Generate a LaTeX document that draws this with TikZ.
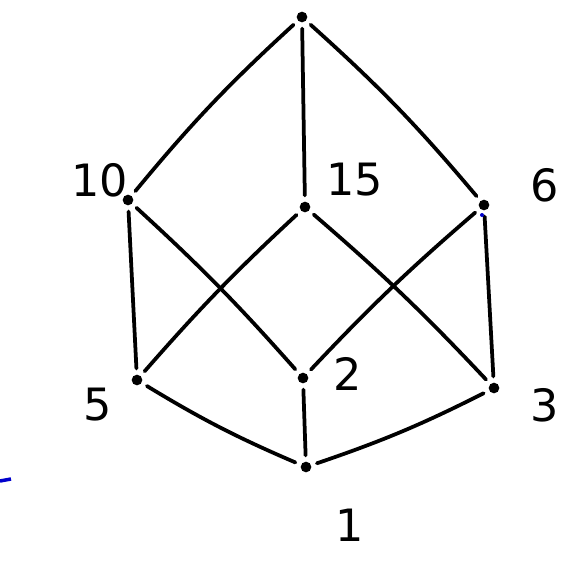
\documentclass[tikz,border=0pt]{standalone}
\usepackage{fontspec}
\setmainfont{DejaVu Sans}
\usepackage{tikz}
\usetikzlibrary{positioning}

\begin{document}
\begin{tikzpicture}[x=0.3mm,y=-0.3mm,
    ponto/.style={circle,fill=black,inner sep=0,minimum size=3.2mm},
    rotulo/.style={font=\fontsize{38}{42}\selectfont},
    aresta/.style={line width=3.2pt,line cap=round,shorten <=1.8mm,shorten >=1.8mm}]
  \useasboundingbox (0,0) rectangle (587,561);

  % elementos do reticulado (divisores de 30)
  \node[ponto] (n30) at (302,17) {};
  \node[ponto] (n10) at (128,200) {};
  \node[ponto] (n15) at (305,207) {};
  \node[ponto] (n6) at (484,205) {};
  \node[ponto] (n5) at (137,380) {};
  \node[ponto] (n2) at (303,378) {};
  \node[ponto] (n3) at (494,388) {};
  \node[ponto] (n1) at (306,467) {};

  % rótulos
  \node[rotulo] (r10) at (100,180) {10};
  \node[rotulo] (r15) at (355,180) {15};
  \node[rotulo] (r6) at (545,185) {6};
  \node[rotulo] (r5) at (98,405) {5};
  \node[rotulo] (r2) at (348,374) {2};
  \node[rotulo] (r3) at (545,405) {3};
  \node[rotulo] (r1) at (350,525) {1};

  % arestas de cobertura
  \draw[aresta] (n30) to[bend right=4] (n10);
  \draw[aresta] (n30) -- (n15);
  \draw[aresta] (n30) to[bend left=4] (n6);
  \draw[aresta] (n10) -- (n5);
  \draw[aresta] (n10) to[bend left=3] (n2);
  \draw[aresta] (n15) to[bend right=3] (n5);
  \draw[aresta] (n15) to[bend left=3] (n3);
  \draw[aresta] (n6) to[bend right=3] (n2);
  \draw[aresta] (n6) -- (n3);
  \draw[aresta] (n5) to[bend right=4] (n1);
  \draw[aresta] (n2) -- (n1);
  \draw[aresta] (n3) to[bend left=4] (n1);

  % traços azuis soltos
  \draw[blue!80!black,line width=3pt] (0,481) -- (11,479);
  \fill[blue!80!black] (482,215) circle (2);
\end{tikzpicture}
\end{document}
